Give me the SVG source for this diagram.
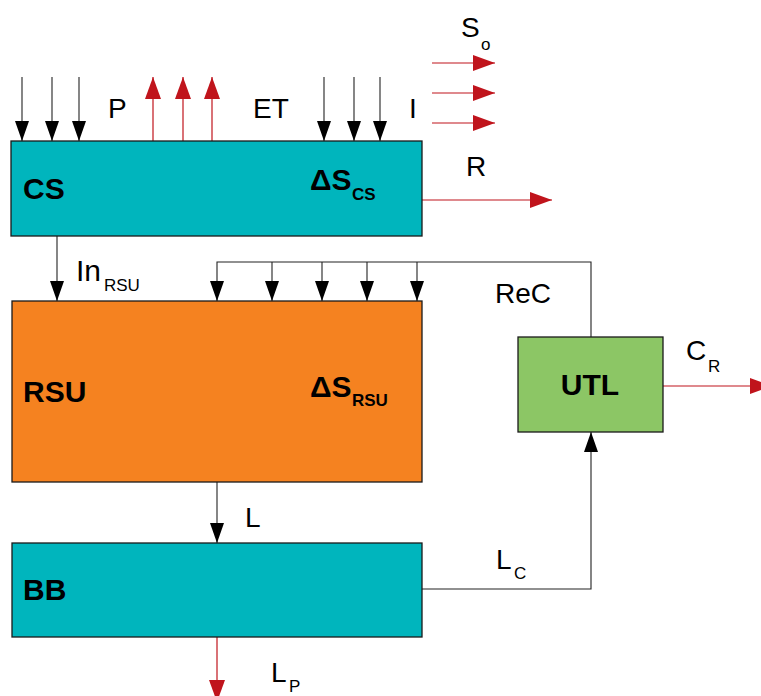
<svg xmlns="http://www.w3.org/2000/svg" width="761" height="696" viewBox="0 0 761 696">
<defs>
<style>
.box{stroke:#1a1a1a;stroke-width:1.3}
.k{stroke:#222;stroke-width:1.1;fill:none}
.r{stroke:#c0141c;stroke-width:1.2;fill:none}
.t{font-family:"Liberation Sans",Arial,sans-serif;font-size:28px;fill:#000}
.b{font-family:"Liberation Sans",Arial,sans-serif;font-size:30px;font-weight:bold;fill:#000}
.s{font-size:17px}
</style>
<marker id="ak" markerUnits="userSpaceOnUse" markerWidth="20" markerHeight="14" refX="20" refY="7" orient="auto"><path d="M0,0 L20,7 L0,14 z" fill="#000"/></marker>
<marker id="ar" markerUnits="userSpaceOnUse" markerWidth="22" markerHeight="16" refX="22" refY="8" orient="auto"><path d="M0,0 L22,8 L0,16 z" fill="#c0141c"/></marker>
</defs>
<rect width="761" height="696" fill="#fff"/>
<g id="connectors">
<line class="k" x1="22" y1="77" x2="22" y2="141" marker-end="url(#ak)"/>
<line class="k" x1="52" y1="77" x2="52" y2="141" marker-end="url(#ak)"/>
<line class="k" x1="79" y1="77" x2="79" y2="141" marker-end="url(#ak)"/>
<line class="r" x1="153" y1="141" x2="153" y2="77" marker-end="url(#ar)"/>
<line class="r" x1="183" y1="141" x2="183" y2="77" marker-end="url(#ar)"/>
<line class="r" x1="212" y1="141" x2="212" y2="77" marker-end="url(#ar)"/>
<line class="k" x1="324" y1="77" x2="324" y2="141" marker-end="url(#ak)"/>
<line class="k" x1="354" y1="77" x2="354" y2="141" marker-end="url(#ak)"/>
<line class="k" x1="380" y1="77" x2="380" y2="141" marker-end="url(#ak)"/>
<line class="r" x1="432" y1="63" x2="495" y2="63" marker-end="url(#ar)"/>
<line class="r" x1="432" y1="93" x2="495" y2="93" marker-end="url(#ar)"/>
<line class="r" x1="432" y1="123" x2="495" y2="123" marker-end="url(#ar)"/>
<line class="r" x1="422" y1="200" x2="552" y2="200" marker-end="url(#ar)"/>
<line class="k" x1="57" y1="236" x2="57" y2="301" marker-end="url(#ak)"/>
<polyline class="k" points="591,337 591,262 217,262 217,301" marker-end="url(#ak)"/>
<line class="k" x1="272" y1="262" x2="272" y2="301" marker-end="url(#ak)"/>
<line class="k" x1="322" y1="262" x2="322" y2="301" marker-end="url(#ak)"/>
<line class="k" x1="367" y1="262" x2="367" y2="301" marker-end="url(#ak)"/>
<line class="k" x1="417" y1="262" x2="417" y2="301" marker-end="url(#ak)"/>
<line class="k" x1="217" y1="482" x2="217" y2="543" marker-end="url(#ak)"/>
<polyline class="k" points="422,589 591,589 591,432" marker-end="url(#ak)"/>
<line class="r" x1="663" y1="386" x2="772" y2="386" marker-end="url(#ar)"/>
<line class="r" x1="217" y1="637" x2="217" y2="702" marker-end="url(#ar)"/>
</g>
<g id="labels">
<text class="t" x="108" y="118">P</text>
<text class="t" x="253" y="118">ET</text>
<text class="t" x="409" y="118">I</text>
<text class="t" x="461" y="37">S<tspan class="s" x="481" y="50">o</tspan></text>
<text class="t" x="466" y="176">R</text>
<text class="t" x="76" y="281" style="font-size:30px">In<tspan class="s" x="104" y="291">RSU</tspan></text>
<text class="t" x="495" y="303">ReC</text>
<text class="t" x="686" y="360">C<tspan class="s" x="708" y="372">R</tspan></text>
<text class="t" x="245" y="527">L</text>
<text class="t" x="496" y="569">L<tspan class="s" x="514" y="579">C</tspan></text>
<text class="t" x="271" y="682">L<tspan class="s" x="289" y="692">P</tspan></text>
</g>
<g id="CS">
<rect class="box" x="11" y="141" width="411" height="95" fill="#00b5bd"/>
<text class="b" x="23" y="199">CS</text>
<text class="b" x="310" y="190">ΔS<tspan class="s" x="352" y="200">CS</tspan></text>
</g>
<g id="RSU">
<rect class="box" x="12" y="301" width="410" height="181" fill="#f58220"/>
<text class="b" x="23" y="402">RSU</text>
<text class="b" x="310" y="397">ΔS<tspan class="s" x="352" y="406">RSU</tspan></text>
</g>
<g id="UTL">
<rect class="box" x="518" y="337" width="145" height="95" fill="#8cc665"/>
<text class="b" x="590" y="395" text-anchor="middle">UTL</text>
</g>
<g id="BB">
<rect class="box" x="12" y="543" width="410" height="94" fill="#00b5bd"/>
<text class="b" x="23" y="600">BB</text>
</g>
</svg>
